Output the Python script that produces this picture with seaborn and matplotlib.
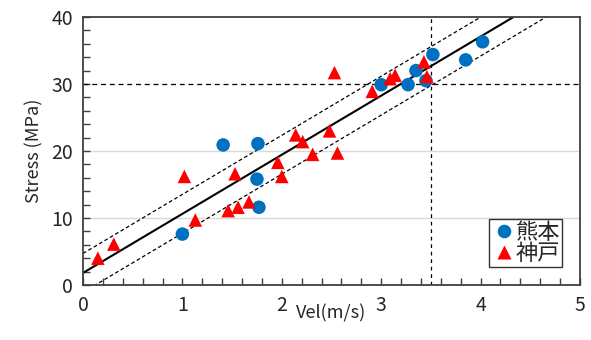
import numpy as np
import pandas as pd
import seaborn as sns
import matplotlib.pyplot as plt
from matplotlib.ticker import MultipleLocator

# Kumamoto
kuma_vel = [1.00, 1.41, 1.76, 1.75, 1.77, 3.00, 3.27, 3.35, 3.45, 3.52, 3.85, 4.02]
kuma_stress = [7.6, 20.9, 21.1, 15.8, 11.6, 29.9, 29.9, 32.0, 30.5, 34.4, 33.6, 36.3]

# Kobe
kobe_vel = [0.15, 0.31, 1.02, 1.13, 1.46, 1.56, 1.67, 1.53, 1.96, 2.00, 2.14, 2.21,
            2.31, 2.48, 2.56, 2.53, 2.91, 3.09, 3.14, 3.43, 3.46]
kobe_stress = [4.0, 6.1, 16.2, 9.7, 11.1, 11.6, 12.4, 16.6, 18.3, 16.2, 22.4, 21.4,
               19.5, 23.0, 19.7, 31.7, 28.9, 30.8, 31.3, 33.3, 31.1]

# regression line and band
slope = 8.82
intercept = 1.8
band = 2.9
ref_vel = 3.5
ref_stress = 30

df = pd.concat([
    pd.DataFrame({"vel": kuma_vel, "stress": kuma_stress, "site": "熊本"}),
    pd.DataFrame({"vel": kobe_vel, "stress": kobe_stress, "site": "神戸"}),
])

sns.set_style("white")
plt.rcParams["font.family"] = ["Noto Sans CJK JP", "DejaVu Sans"]

fig = plt.figure(figsize=(5.91, 3.40), dpi=100)
ax = fig.add_axes([0.1404, 0.1618, 0.8410, 0.7882])

for y in [10, 20]:
    ax.axhline(y, color="#d9d9d9", lw=1, zorder=0)

xs = np.linspace(0, 5, 200)
ax.plot(xs, slope * xs + intercept, color="black", lw=1.5, zorder=2)
ax.plot(xs, slope * xs + intercept + band, color="black", lw=0.9, ls=(0, (3, 2)), zorder=2)
ax.plot(xs, slope * xs + intercept - band, color="black", lw=0.9, ls=(0, (3, 2)), zorder=2)
ax.axhline(ref_stress, color="black", lw=0.9, ls=(0, (4, 3)), zorder=2)
ax.axvline(ref_vel, color="black", lw=0.9, ls=(0, (3, 3)), zorder=2)

sns.scatterplot(data=df, x="vel", y="stress", hue="site", style="site",
                palette={"熊本": "#0070C0", "神戸": "#FF0000"},
                markers={"熊本": "o", "神戸": "^"}, s=95, edgecolor="none",
                ax=ax, zorder=3)

ax.set_xlim(0, 5)
ax.set_ylim(0, 40)
ax.xaxis.set_major_locator(MultipleLocator(1))
ax.xaxis.set_minor_locator(MultipleLocator(0.2))
ax.yaxis.set_major_locator(MultipleLocator(10))
ax.yaxis.set_minor_locator(MultipleLocator(2))
ax.tick_params(which="both", direction="in", bottom=True, left=True, length=5,
               width=1, color="#404040", labelsize=14, pad=7)
for sp in ax.spines.values():
    sp.set_color("#404040")
    sp.set_linewidth(1.3)

ax.set_xlabel("Vel(m/s)", fontsize=13, labelpad=-8)
ax.set_ylabel("Stress (MPa)", fontsize=13, labelpad=6)

leg = ax.legend(loc="lower right", fontsize=16, frameon=True, fancybox=False,
                borderpad=0.1, handletextpad=-0.1, labelspacing=-0.1,
                handlelength=1.2, borderaxespad=0.8, markerscale=1.0)
leg.get_frame().set_edgecolor("black")
leg.get_frame().set_linewidth(1)

fig.savefig("out.png", dpi=100)
